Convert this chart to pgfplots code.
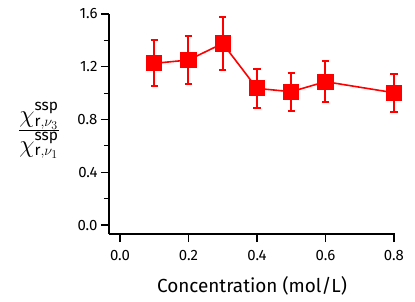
\documentclass[border=0pt]{standalone}
\usepackage{fontspec}
\setmainfont{Fira Sans}
\usepackage{amsmath}
\usepackage{pgfplots}
\pgfplotsset{compat=1.18}
\DeclareMathSizes{24}{24}{15.5}{11.5}
\pgfplotstableread{
x y e
0.1 1.226 0.175
0.2 1.251 0.180
0.3 1.377 0.198
0.4 1.036 0.150
0.5 1.011 0.145
0.6 1.087 0.155
0.8 1.003 0.145
}\datatable
\begin{document}
\begin{tikzpicture}[x=1bp,y=1bp]
\begin{axis}[
 at={(0,0)}, anchor=south west,
 scale only axis, width=286bp, height=220bp,
 xmin=-0.032, xmax=0.803, ymin=-0.068, ymax=1.6,
 axis x line=bottom, axis y line=left,
 axis line style={-, line width=1.2bp, black},
 xtick={0,0.2,0.4,0.6,0.8},
 ytick={0,0.4,0.8,1.2,1.6},
 minor ytick={0.2,0.6,1.0,1.4},
 ticklabel style={font=\fontsize{15}{18}\selectfont},
 xticklabel style={yshift=-5bp, /pgf/number format/.cd, fixed, fixed zerofill, precision=1},
 yticklabel style={/pgf/number format/.cd, fixed, fixed zerofill, precision=1},
 /pgf/number format/assume math mode=true,
 tick align=outside, major tick length=8bp, minor tick length=5bp,
 every tick/.style={line width=1.2bp, black},
 xlabel={\fontsize{19}{23}\selectfont Concentration (mol/L)},
 xlabel style={yshift=-9bp},
 ylabel={\fontsize{24}{28}\selectfont$\frac{\textstyle\chi^{\text{ssp}}_{\text{r},\nu_3}}{\textstyle\chi^{\text{ssp}}_{\text{r},\nu_1}}$},
 ylabel style={rotate=-90, at={(axis description cs:-0.245,0.47)}, anchor=center},
 clip=false,
]
\addplot[red, line width=1.6bp, mark=square*, mark size=7.3bp, mark options={solid},
 error bars/.cd, y dir=both, y explicit,
 error bar style={line width=2bp, red},
 error mark options={rotate=90, mark size=3.6bp, line width=2bp, red}]
 table[x=x, y=y, y error=e] {\datatable};
\end{axis}
\pgfresetboundingbox
\path (-109,-68) rectangle (306,234);
\end{tikzpicture}
\end{document}
